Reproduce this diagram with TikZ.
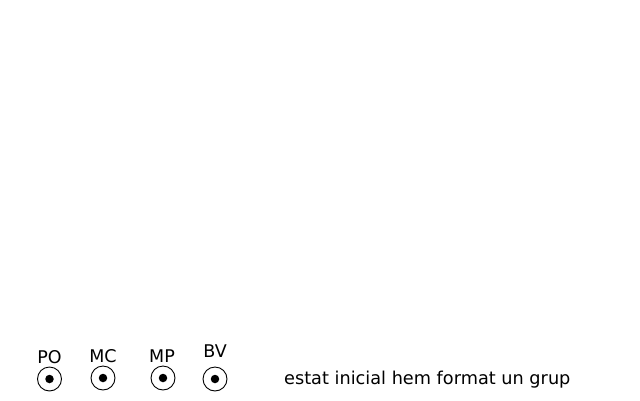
\documentclass[tikz,border=0pt]{standalone}
\usepackage{fontspec}
\setmainfont{DejaVu Sans}
\begin{document}
\begin{tikzpicture}[x=1pt,y=-1pt,
  socket/.style={circle,draw=black,line width=0.9pt,minimum size=24pt,inner sep=0pt},
  dot/.style={circle,fill=black,minimum size=8.5pt,inner sep=0pt},
  lbl/.style={font=\fontsize{17.5}{20}\selectfont,inner sep=0pt}]
\useasboundingbox (0,0) rectangle (640,400);
\node[socket] (po) at (49.5,379) {};
\node[dot] at (po.center) {};
\node[socket] (mc) at (103,378) {};
\node[dot] at (mc.center) {};
\node[socket] (mp) at (163,378) {};
\node[dot] at (mp.center) {};
\node[socket] (bv) at (215,379) {};
\node[dot] at (bv.center) {};
\node[lbl] (lpo) at (49.5,357) {PO};
\node[lbl] (lmc) at (103,356) {MC};
\node[lbl] (lmp) at (162,356) {MP};
\node[lbl] (lbv) at (215,351) {BV};
\node[font=\fontsize{17.7}{20}\selectfont,inner sep=0pt,anchor=base west] (txt) at (284,384.5) {estat inicial hem format un grup};
\end{tikzpicture}
\end{document}
